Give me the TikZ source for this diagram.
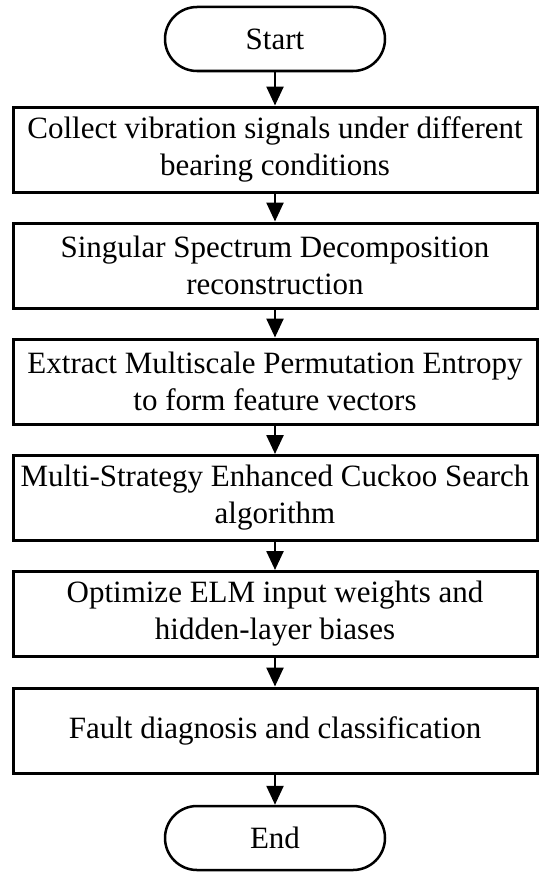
\documentclass[tikz,border=0pt]{standalone}
\usepackage{fontspec}
\setmainfont{Liberation Serif}
\usetikzlibrary{arrows.meta}

\begin{document}
\begin{tikzpicture}[
  x=1pt, y=-1pt,
  stage/.style={draw=black, line width=3pt, minimum width=524pt, minimum height=85pt,
    align=center, inner sep=0pt, font=\fontsize{31}{37}\selectfont},
  term/.style={draw=black, line width=2.5pt, rounded corners=32pt, minimum width=220pt,
    minimum height=64pt, inner sep=0pt, font=\fontsize{31}{37}\selectfont},
  flow/.style={line width=2.5pt, -{Triangle[width=17pt, length=19pt]}}
]
\useasboundingbox (0,0) rectangle (550,883);

% terminals and process steps, top to bottom
\node[term]  (start) at (275, 39)    {Start};
\node[stage] (col)   at (275, 149.5) {Collect vibration signals under different\\bearing conditions};
\node[stage] (ssd)   at (275, 265.5) {Singular Spectrum Decomposition\\reconstruction};
\node[stage] (mpe)   at (275, 381.5) {Extract Multiscale Permutation Entropy\\to form feature vectors};
\node[stage] (mecs)  at (275, 498)   {Multi-Strategy Enhanced Cuckoo Search\\algorithm};
\node[stage] (elm)   at (275, 614)   {Optimize ELM input weights and\\hidden-layer biases};
\node[stage] (fault) at (275, 730.5) {Fault diagnosis and classification};
\node[term]  (end)   at (275, 838)   {End};

% arrows between steps
\foreach \a/\b in {start/col, col/ssd, ssd/mpe, mpe/mecs, mecs/elm, elm/fault, fault/end}
  \draw[flow] (\a) -- (\b);

\end{tikzpicture}
\end{document}
